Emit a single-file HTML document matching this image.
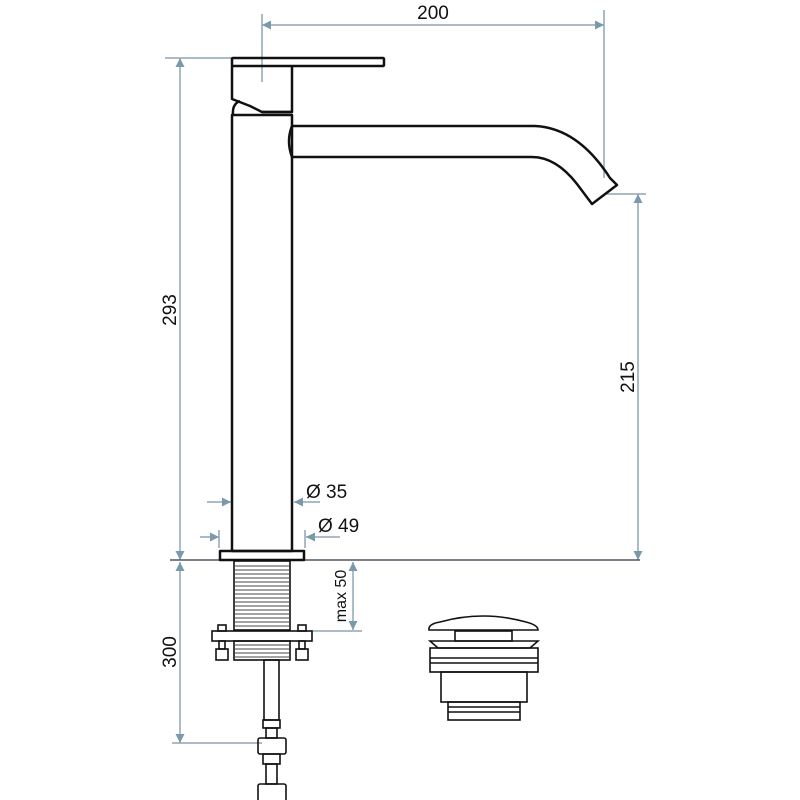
<!DOCTYPE html>
<html><head><style>html,body{margin:0;padding:0;background:#fff}svg{display:block}</style></head>
<body>
<svg width="800" height="800" viewBox="0 0 800 800" xmlns="http://www.w3.org/2000/svg">
<defs>
<marker id="a" viewBox="0 0 10 10" refX="10" refY="5" markerWidth="9" markerHeight="9" orient="auto-start-reverse" markerUnits="userSpaceOnUse"><path d="M0,0 L10,5 L0,10 z" fill="#7a9aab"/></marker>
</defs>
<g stroke="#8ea6b4" stroke-width="1.5" fill="none">
<line x1="262" y1="14" x2="262" y2="82"/>
<line x1="604" y1="10" x2="604" y2="178"/>
<line x1="262" y1="25" x2="604" y2="25" marker-start="url(#a)" marker-end="url(#a)"/>
<line x1="165" y1="58" x2="232" y2="58"/>
<line x1="180" y1="58" x2="180" y2="560" marker-start="url(#a)" marker-end="url(#a)"/>
<line x1="605" y1="194" x2="646" y2="194"/>
<line x1="638" y1="194" x2="638" y2="560" marker-start="url(#a)" marker-end="url(#a)"/>
<line x1="170" y1="560" x2="640" y2="560" stroke="#556"/>
<line x1="180" y1="562" x2="180" y2="743" marker-start="url(#a)" marker-end="url(#a)"/>
<line x1="172" y1="743" x2="262" y2="743"/>
<line x1="353" y1="562" x2="353" y2="630" marker-start="url(#a)" marker-end="url(#a)"/>
<line x1="312" y1="631" x2="362" y2="631"/>
<line x1="207" y1="502" x2="231" y2="502" marker-end="url(#a)"/>
<line x1="320" y1="502" x2="294" y2="502" marker-end="url(#a)"/>
<line x1="200" y1="537" x2="219" y2="537" marker-end="url(#a)"/>
<line x1="219" y1="530" x2="219" y2="548"/>
<line x1="305" y1="530" x2="305" y2="548"/>
<line x1="340" y1="537" x2="306" y2="537" marker-end="url(#a)"/>
</g>
<g font-family="Liberation Sans, sans-serif" fill="#111">
<text x="433" y="19" font-size="19" text-anchor="middle">200</text>
<text transform="translate(176,310) rotate(-90)" font-size="19" text-anchor="middle">293</text>
<text transform="translate(634,377) rotate(-90)" font-size="19" text-anchor="middle">215</text>
<text transform="translate(176,652) rotate(-90)" font-size="19" text-anchor="middle">300</text>
<text transform="translate(346,596) rotate(-90)" font-size="16" text-anchor="middle">max 50</text>
<text x="306" y="498" font-size="19">Ø 35</text>
<text x="318" y="532" font-size="19">Ø 49</text>
</g>
<g stroke="#111" stroke-width="2.5" fill="none" stroke-linejoin="round">
<rect x="232" y="58" width="152" height="8" rx="1"/>
<path d="M232,66 V99 L250,106 L262,112 H292 V66"/>
<path d="M233,115 Q232,104 240,101"/>
<line x1="262" y1="112" x2="292" y2="112"/>
<rect x="232" y="115" width="60" height="436"/>
<path d="M292,126 H535 Q578,128 610,178 L617,185 L592,204 L577,184 Q556,157 532,157 H292"/>
<path d="M292,126 Q286,141 292,157"/>
<rect x="220" y="551" width="84" height="9"/>
</g>
<g stroke="#111" stroke-width="1.6" fill="none">
<rect x="234" y="561" width="56" height="69"/>
<rect x="234" y="641" width="56" height="19"/>
<rect x="212" y="631" width="100" height="10"/>
<rect x="218" y="625" width="8" height="6"/><rect x="298" y="625" width="8" height="6"/>
<rect x="219" y="641" width="6" height="8"/><rect x="299" y="641" width="6" height="8"/>
<rect x="216" y="649" width="12" height="11"/><rect x="296" y="649" width="12" height="11"/>
<rect x="264" y="660" width="15" height="60"/>
<rect x="263" y="720" width="17" height="8"/>
<rect x="266" y="728" width="11" height="10"/>
<rect x="258" y="738" width="28" height="16" rx="2"/>
<rect x="263" y="754" width="17" height="10"/>
<rect x="266" y="764" width="11" height="20"/>
<rect x="258" y="784" width="28" height="18" rx="2"/>
<path d="M429,630 Q428,624 440,622 Q483,610 526,622 Q538,625 538,630 Z"/>
<rect x="455" y="631" width="57" height="10"/>
<path d="M430,641 H538 L530,648 H438 Z"/>
<rect x="430" y="648" width="108" height="24"/>
<line x1="430" y1="658" x2="538" y2="658"/><line x1="430" y1="663" x2="538" y2="663"/>
<rect x="441" y="672" width="86" height="30"/>
<rect x="448" y="702" width="72" height="18"/>
<line x1="448" y1="707" x2="520" y2="707"/><line x1="448" y1="712" x2="520" y2="712"/>
</g>
<g stroke="#444" stroke-width="1">
<path d="M235,566H289M235,570H289M235,574H289M235,578H289M235,582H289M235,586H289M235,590H289M235,594H289M235,598H289M235,602H289M235,606H289M235,610H289M235,614H289M235,618H289M235,622H289M235,626H289M235,645H289M235,649H289M235,653H289M235,657H289"/>
</g>
</svg>
</body></html>
